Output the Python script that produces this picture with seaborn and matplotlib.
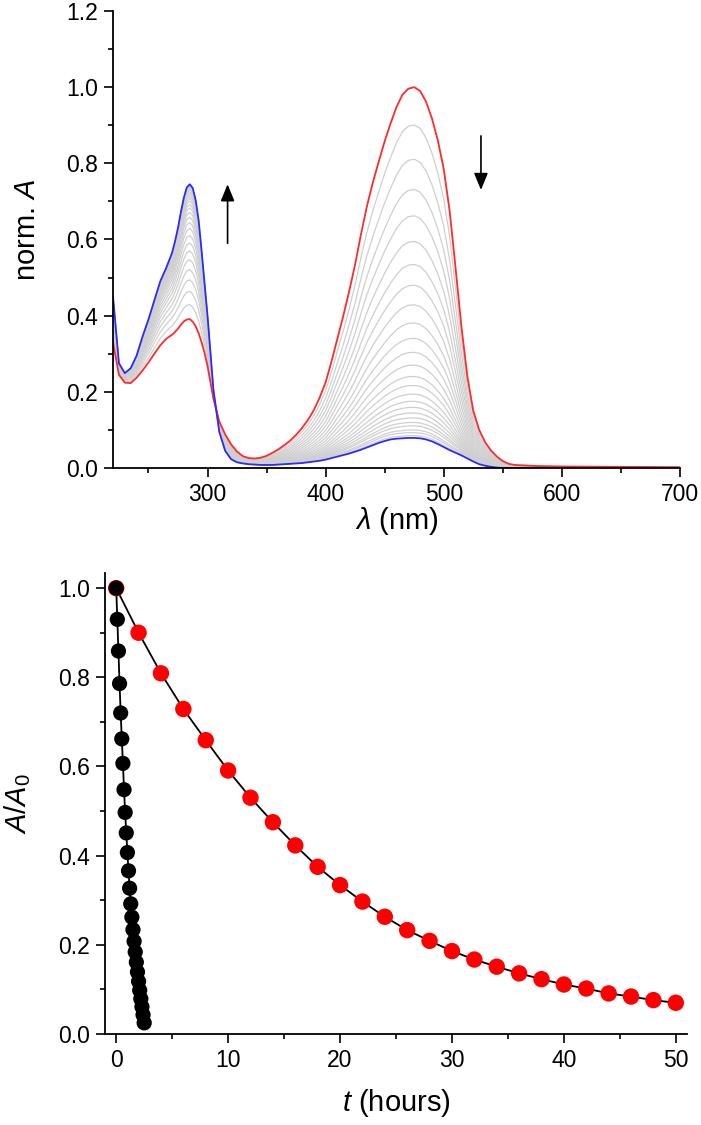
import numpy as np
import pandas as pd
import matplotlib
matplotlib.use("Agg")
import matplotlib.pyplot as plt
import seaborn as sns
from matplotlib.ticker import MultipleLocator, FormatStrFormatter

# ---------------- data ----------------
# wavelength grid (nm): 5 nm steps, 2.5 nm around the UV band maximum
wavelength = (list(range(220, 270, 5))
              + [270, 272.5, 275, 277.5, 280, 282.5, 285, 287.5, 290, 292.5, 295, 297.5]
              + list(range(300, 565, 5)) + [580, 600, 650, 700])

# initial spectrum (red) and final spectrum (blue), normalized absorbance
spec_initial = [0.330, 0.245, 0.224, 0.223, 0.237, 0.256, 0.277, 0.300, 0.322, 0.339,
                0.350, 0.357, 0.366, 0.376, 0.385, 0.390, 0.391, 0.384, 0.372, 0.354,
                0.330, 0.302,
                0.268, 0.182, 0.122, 0.088,
                0.062, 0.043, 0.031, 0.026, 0.025, 0.027, 0.032, 0.040, 0.049, 0.060,
                0.072, 0.087, 0.105, 0.126, 0.152, 0.185, 0.225, 0.280, 0.340, 0.400,
                0.465, 0.535, 0.615, 0.688, 0.750, 0.805, 0.858, 0.905, 0.948, 0.980,
                0.996, 1.000, 0.990, 0.962, 0.918, 0.860, 0.785, 0.675, 0.525, 0.370,
                0.240, 0.150, 0.100, 0.068, 0.046, 0.030, 0.018, 0.011, 0.008,
                0.005, 0.004, 0.003, 0.002]
spec_final = [0.450, 0.275, 0.249, 0.262, 0.295, 0.345, 0.390, 0.440, 0.490, 0.525,
              0.565, 0.595, 0.630, 0.672, 0.710, 0.737, 0.745, 0.735, 0.703, 0.650,
              0.570, 0.485,
              0.400, 0.205, 0.095, 0.045,
              0.023, 0.015, 0.012, 0.010, 0.009, 0.008, 0.008, 0.008, 0.009, 0.010,
              0.011, 0.012, 0.013, 0.015, 0.017, 0.019, 0.022, 0.026, 0.030, 0.034,
              0.038, 0.043, 0.048, 0.054, 0.060, 0.066, 0.071, 0.075, 0.077, 0.078,
              0.079, 0.079, 0.078, 0.075, 0.070, 0.063, 0.055, 0.047, 0.040, 0.033,
              0.025, 0.017, 0.010, 0.006, 0.003, 0.001, 0.000, 0.000, 0.000,
              0.000, 0.000, 0.000, 0.000]

# kinetics: slow (red) and fast (black)
t_slow = [0, 2, 4, 6, 8, 10, 12, 14, 16, 18, 20, 22, 24, 26, 28, 30, 32, 34, 36, 38,
          40, 42, 44, 46, 48, 50]
a_slow = [1.0, 0.900, 0.809, 0.729, 0.659, 0.591, 0.530, 0.475, 0.423, 0.375, 0.334,
          0.297, 0.263, 0.233, 0.209, 0.186, 0.167, 0.151, 0.136, 0.123, 0.111, 0.102,
          0.091, 0.084, 0.076, 0.070]
t_fast = [0.0, 0.1, 0.2, 0.3, 0.4, 0.5, 0.6, 0.7, 0.8, 0.9, 1.0, 1.1, 1.2, 1.3, 1.4,
          1.5, 1.6, 1.7, 1.8, 1.9, 2.0, 2.1, 2.2, 2.3, 2.4, 2.5]
a_fast = [1.0, 0.930, 0.859, 0.786, 0.720, 0.662, 0.607, 0.548, 0.497, 0.451, 0.407,
          0.366, 0.327, 0.292, 0.262, 0.234, 0.208, 0.184, 0.161, 0.139, 0.118, 0.098,
          0.079, 0.061, 0.043, 0.025]

# ---------------- style ----------------
sns.set_theme(style="ticks")
plt.rcParams['font.family'] = ['Liberation Sans', 'DejaVu Sans']
plt.rcParams['mathtext.fontset'] = 'custom'
plt.rcParams['mathtext.rm'] = 'Liberation Sans'
plt.rcParams['mathtext.it'] = 'Liberation Sans:italic'
plt.rcParams['mathtext.bf'] = 'Liberation Sans:bold'

W, H = 701, 1125
fig = plt.figure(figsize=(W / 100, H / 100), dpi=100)
fig.patch.set_facecolor('white')
ax1 = fig.add_axes([113 / W, 1 - 468 / H, (680 - 113) / W, (468 - 11) / H])
ax2 = fig.add_axes([105 / W, 1 - 1034 / H, (687 - 105) / W, (1034 - 573) / H])

# ---------------- top: spectra ----------------
wl = np.array(wavelength, float)
s0 = np.array(spec_initial)
s1 = np.array(spec_final)
a = np.array(a_slow)
frac = (a - a[-1]) / (a[0] - a[-1])
rows = []
for i in range(1, len(frac) - 1):
    for x, y in zip(wl, s1 + (s0 - s1) * frac[i]):
        rows.append({'curve': i, 'wl': x, 'A': y})
df = pd.DataFrame(rows)
sns.lineplot(data=df, x='wl', y='A', units='curve', estimator=None, sort=False,
             color='#cfcfcf', lw=0.9, ax=ax1)
sns.lineplot(x=wl, y=s0, color='#ff2a2a', lw=1.3, sort=False, ax=ax1)
sns.lineplot(x=wl, y=s1, color='#2a2aff', lw=1.3, sort=False, ax=ax1)

ax1.annotate('', xy=(317, 0.745), xytext=(317, 0.59),
             arrowprops=dict(arrowstyle='-|>,head_length=0.85,head_width=0.35',
                             color='black', lw=1.2, shrinkA=0, shrinkB=0))
ax1.annotate('', xy=(531.5, 0.73), xytext=(531.5, 0.872),
             arrowprops=dict(arrowstyle='-|>,head_length=0.85,head_width=0.35',
                             color='black', lw=1.2, shrinkA=0, shrinkB=0))

ax1.set_xlim(220, 700)
ax1.set_ylim(0, 1.2)
ax1.xaxis.set_major_locator(MultipleLocator(100))
ax1.xaxis.set_minor_locator(MultipleLocator(50))
ax1.yaxis.set_major_locator(MultipleLocator(0.2))
ax1.yaxis.set_minor_locator(MultipleLocator(0.1))
ax1.yaxis.set_major_formatter(FormatStrFormatter('%.1f'))
ax1.set_xlabel(r'$\lambda$ (nm)', fontsize=21)
ax1.set_ylabel(r'norm. $A$', fontsize=21)

# ---------------- bottom: kinetics ----------------
sns.lineplot(x=t_slow, y=a_slow, color='black', lw=1.3, ax=ax2, zorder=2)
sns.scatterplot(x=t_slow, y=a_slow, color='#ff0000', s=140, edgecolor='none',
                ax=ax2, zorder=3)
sns.lineplot(x=t_fast, y=a_fast, color='black', lw=1.3, ax=ax2, zorder=2)
sns.scatterplot(x=t_fast, y=a_fast, color='black', s=120, edgecolor='none',
                ax=ax2, zorder=3)

ax2.set_xlim(-1, 51)
ax2.set_ylim(0, 1.034)
ax2.xaxis.set_major_locator(MultipleLocator(10))
ax2.xaxis.set_minor_locator(MultipleLocator(5))
ax2.yaxis.set_major_locator(MultipleLocator(0.2))
ax2.yaxis.set_minor_locator(MultipleLocator(0.1))
ax2.yaxis.set_major_formatter(FormatStrFormatter('%.1f'))
ax2.set_xlabel(r'$t$ (hours)', fontsize=21)
ax2.set_ylabel(r'$A/A_\mathrm{0}$', fontsize=21)

for ax in (ax1, ax2):
    sns.despine(ax=ax)
    ax.set_facecolor('white')
    for sp in ('left', 'bottom'):
        ax.spines[sp].set_linewidth(1.3)
        ax.spines[sp].set_color('black')
    ax.tick_params(which='major', direction='out', length=6.5, width=1.2,
                   labelsize=16.5, pad=4.5, color='black', labelcolor='black')
    ax.tick_params(which='minor', direction='out', length=3.5, width=1.2,
                   color='black')
    ax.grid(False)
    for lab in (ax.xaxis.label, ax.yaxis.label):
        lab.set_va('center')
        lab.set_ha('center')
        lab.set_color('black')

ax1.yaxis.set_label_coords(-0.152, 0.521)
ax1.xaxis.set_label_coords(0.5, -0.117)
ax2.yaxis.set_label_coords(-0.151, 0.50)
ax2.xaxis.set_label_coords(0.5, -0.15)

fig.savefig('out.png', dpi=100, facecolor='white')
